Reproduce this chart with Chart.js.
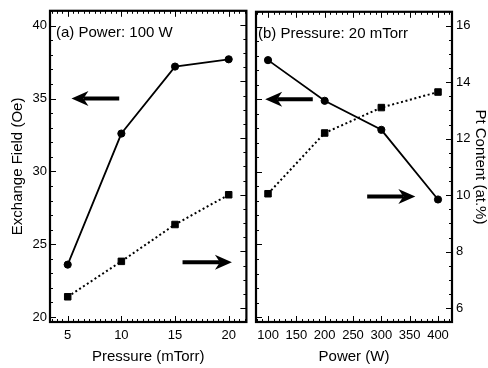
<!DOCTYPE html>
<html><head><meta charset="utf-8">
<script src="https://cdn.jsdelivr.net/npm/chart.js@4/dist/chart.umd.min.js"></script>
<style>
html,body{margin:0;padding:0;background:#fff;}
#wrap{position:relative;width:488px;height:368px;overflow:hidden;background:#fff;}
#c1{position:absolute;left:0;top:0;}
#c2{position:absolute;left:250px;top:0;}
</style></head><body>
<div id="wrap"><canvas id="c1" width="252" height="368"></canvas><canvas id="c2" width="238" height="368"></canvas></div>
<script>
// ---- data ----
const pressure = [5, 10, 15, 20];
const fieldVsPressure = [23.6, 32.6, 37.2, 37.7];
const ptVsPressure = [6.4, 7.65, 8.95, 10.0];
const power = [100, 200, 300, 400];
const fieldVsPower = [37.7, 34.9, 32.9, 28.1];
const ptVsPower = [10.05, 12.2, 13.1, 13.65];
// ---- tick labels ----
const pressureTicks = [5, 10, 15, 20];
const powerTicks = [100, 150, 200, 250, 300, 350, 400];
const fieldTicks = [20, 25, 30, 35, 40];
const ptTicks = [6, 8, 10, 12, 14, 16];
// ---- axis ranges ----
const pressureRange = [3.35, 21.65];
const powerRange = [78.8, 424.7];
const fieldRange = [19.66, 41.03];
const ptRange = [5.51, 16.49];
// ---- texts ----
const panelA = '(a) Power: 100 W';
const panelB = '(b) Pressure: 20 mTorr';
// arrows in data units: head at "to"
const arrowsA = [{from: 9.8, to: 5.35, y: 35, axis: 'y'}, {from: 15.7, to: 20.3, y: 7.62, axis: 'y1'}];
const arrowsB = [{from: 179, to: 95, y: 35, axis: 'y'}, {from: 275, to: 360, y: 9.95, axis: 'y1'}];

const FONT = "'Liberation Sans', Arial, Helvetica, sans-serif";
Chart.defaults.font.family = FONT;
Chart.defaults.color = '#000';

const framePlugin = {
  id: 'frameTicks',
  afterDatasetsDraw(chart, args, opts) {
    const ctx = chart.ctx, a = chart.chartArea;
    ctx.save();
    ctx.strokeStyle = '#000';
    ctx.lineWidth = 1;
    const seg = (x1, y1, x2, y2) => { ctx.beginPath(); ctx.moveTo(x1, y1); ctx.lineTo(x2, y2); ctx.stroke(); };
    for (const sp of opts.specs) {
      const s = chart.scales[sp.id];
      const vals = [];
      sp.majors.forEach(v => vals.push([v, 6]));
      const start = Math.ceil(s.min / sp.minor) * sp.minor;
      for (let v = start; v <= s.max + 1e-9; v += sp.minor) {
        if (!sp.majors.some(m => Math.abs(m - v) < 1e-6)) vals.push([v, 3]);
      }
      for (const [v, len] of vals) {
        const p = Math.round(s.getPixelForValue(v)) + 0.5;
        for (const side of sp.sides) {
          if (side === 'bottom') seg(p, a.bottom, p, a.bottom - len);
          if (side === 'top') seg(p, a.top, p, a.top + len);
          if (side === 'left') seg(a.left, p, a.left + len, p);
          if (side === 'right') seg(a.right, p, a.right - len, p);
        }
      }
    }
    ctx.lineWidth = 2.2;
    ctx.strokeRect(a.left, a.top, a.right - a.left, a.bottom - a.top);
    // panel label
    ctx.fillStyle = '#000';
    ctx.font = '15px ' + FONT;
    ctx.textBaseline = 'middle';
    ctx.textAlign = 'left';
    ctx.fillText(opts.label, a.left + opts.labelDx, a.top + 22);
    // arrows
    for (const ar of opts.arrows) {
      const xs = chart.scales.x;
      const ys = chart.scales[ar.axis];
      const x1 = xs.getPixelForValue(ar.from), x2 = xs.getPixelForValue(ar.to);
      const y = ys.getPixelForValue(ar.y);
      const dir = x2 > x1 ? 1 : -1;
      const L = 17, H = 7.5, N = 12;
      ctx.lineWidth = 4;
      seg(x1, y, x2 - dir * N, y);
      ctx.beginPath();
      ctx.moveTo(x2, y);
      ctx.lineTo(x2 - dir * L, y - H);
      ctx.lineTo(x2 - dir * N, y);
      ctx.lineTo(x2 - dir * L, y + H);
      ctx.closePath();
      ctx.fill();
    }
    ctx.restore();
  }
};

function pts(xs, ys) { return xs.map((x, i) => ({x: x, y: ys[i]})); }

function fieldSet(xs, ys) {
  return {data: pts(xs, ys), yAxisID: 'y', showLine: true, borderColor: '#000', borderWidth: 1.8,
    pointStyle: 'circle', pointRadius: 3.6, pointBackgroundColor: '#000', pointBorderColor: '#000', pointBorderWidth: 1};
}
function ptSet(xs, ys) {
  return {data: pts(xs, ys), yAxisID: 'y1', showLine: true, borderColor: '#000', borderWidth: 2, borderDash: [2, 2.6],
    pointStyle: 'rect', pointRadius: 4.6, pointBackgroundColor: '#000', pointBorderColor: '#000', pointBorderWidth: 1};
}
const tickFont = {size: 13};
const titleFont = {size: 15};
const setTicks = arr => (s => { s.ticks = arr.map(v => ({value: v})); });

new Chart(document.getElementById('c1'), {
  type: 'scatter',
  data: {datasets: [fieldSet(pressure, fieldVsPressure), ptSet(pressure, ptVsPressure)]},
  options: {
    responsive: false, animation: false, events: [],
    layout: {padding: {top: 10, right: 2, left: 0, bottom: 0}},
    plugins: {legend: {display: false}, tooltip: {enabled: false},
      frameTicks: {label: panelA, labelDx: 6, arrows: arrowsA, specs: [
        {id: 'x', majors: pressureTicks, minor: 0.5, sides: ['bottom', 'top']},
        {id: 'y', majors: fieldTicks, minor: 1, sides: ['left']},
        {id: 'y1', majors: ptTicks, minor: 0.5, sides: ['right']}]}},
    scales: {
      x: {type: 'linear', position: 'bottom', min: pressureRange[0], max: pressureRange[1],
        afterBuildTicks: setTicks(pressureTicks), afterFit: s => { s.height = 46; },
        ticks: {font: tickFont, padding: 6, maxRotation: 0, autoSkip: false},
        grid: {display: false, drawTicks: false}, border: {display: false},
        title: {display: true, text: 'Pressure (mTorr)', font: titleFont, padding: {top: 0, bottom: 2}}},
      y: {type: 'linear', position: 'left', min: fieldRange[0], max: fieldRange[1],
        afterBuildTicks: setTicks(fieldTicks), afterFit: s => { s.width = 50; },
        ticks: {font: tickFont, padding: 3, autoSkip: false},
        grid: {display: false, drawTicks: false}, border: {display: false},
        title: {display: true, text: 'Exchange Field (Oe)', font: titleFont, padding: {top: 9, bottom: 0}}},
      y1: {type: 'linear', position: 'right', min: ptRange[0], max: ptRange[1],
        afterBuildTicks: setTicks(ptTicks), afterFit: s => { s.width = 0; },
        ticks: {display: false}, grid: {display: false, drawTicks: false}, border: {display: false}}
    }
  },
  plugins: [framePlugin]
});

new Chart(document.getElementById('c2'), {
  type: 'scatter',
  data: {datasets: [fieldSet(power, fieldVsPower), ptSet(power, ptVsPower)]},
  options: {
    responsive: false, animation: false, events: [],
    layout: {padding: {top: 10, right: 0, left: 6, bottom: 0}},
    plugins: {legend: {display: false}, tooltip: {enabled: false},
      frameTicks: {label: panelB, labelDx: 2, arrows: arrowsB, specs: [
        {id: 'x', majors: powerTicks, minor: 10, sides: ['bottom', 'top']},
        {id: 'y', majors: fieldTicks, minor: 1, sides: ['left']},
        {id: 'y1', majors: ptTicks, minor: 0.5, sides: ['right']}]}},
    scales: {
      x: {type: 'linear', position: 'bottom', min: powerRange[0], max: powerRange[1],
        afterBuildTicks: setTicks(powerTicks), afterFit: s => { s.height = 46; },
        ticks: {font: tickFont, padding: 6, maxRotation: 0, autoSkip: false},
        grid: {display: false, drawTicks: false}, border: {display: false},
        title: {display: true, text: 'Power (W)', font: titleFont, padding: {top: 0, bottom: 2}}},
      y: {type: 'linear', position: 'left', min: fieldRange[0], max: fieldRange[1],
        afterBuildTicks: setTicks(fieldTicks), afterFit: s => { s.width = 0; },
        ticks: {display: false}, grid: {display: false, drawTicks: false}, border: {display: false}},
      y1: {type: 'linear', position: 'right', min: ptRange[0], max: ptRange[1],
        afterBuildTicks: setTicks(ptTicks), afterFit: s => { s.width = 36; },
        ticks: {font: tickFont, padding: 4, autoSkip: false},
        grid: {display: false, drawTicks: false}, border: {display: false},
        title: {display: true, text: 'Pt Content (at.%)', font: {size: 15, lineHeight: 1}, padding: {top: 0, bottom: 0}}}
    }
  },
  plugins: [framePlugin]
});
</script>
</body></html>
